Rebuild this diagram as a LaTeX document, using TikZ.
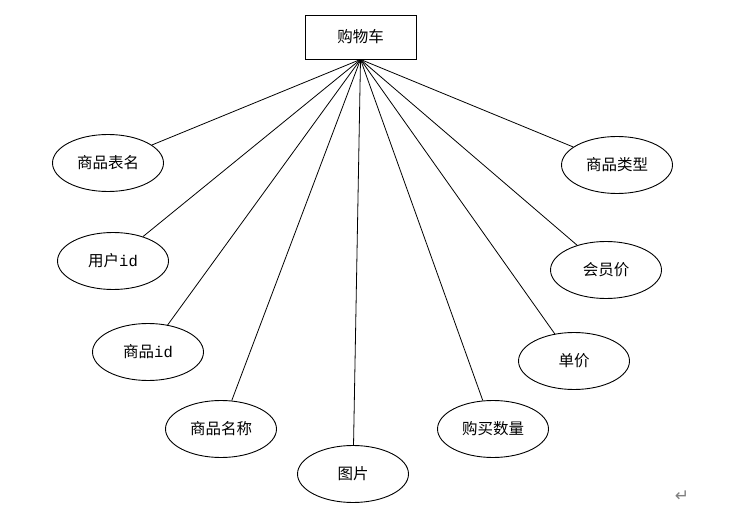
\documentclass[tikz,border=0pt]{standalone}
\usepackage{fontspec}
\newfontfamily\cjk{Noto Sans CJK SC}
\newfontfamily\symfont{DejaVu Sans}
\newfontfamily\monofnt{Liberation Mono}
\usetikzlibrary{shapes.geometric}
\begin{document}
\begin{tikzpicture}[x=1pt,y=-1pt,
  attr/.style={draw, ellipse, line width=0.9pt, minimum width=111pt, minimum height=57pt, inner sep=0pt, font=\cjk\fontsize{15.5}{18}\selectfont},
  entity/.style={draw, rectangle, line width=0.9pt, minimum width=111pt, minimum height=44pt, inner sep=0pt, font=\cjk\fontsize{15.5}{18}\selectfont},
  link/.style={line width=0.8pt}]
\useasboundingbox (0,0) rectangle (735,510);
\node[entity] (cart) at (360.5,37) {购物车};
\coordinate (hub) at (cart.south);
\node[attr] (a1) at (108,163) {商品表名};
\node[attr] (a2) at (113,261) {用户{\monofnt id}};
\node[attr] (a3) at (148,352) {商品{\monofnt id}};
\node[attr] (a4) at (221,429) {商品名称};
\node[attr] (a5) at (353,474) {图片};
\node[attr] (a6) at (493,429) {购买数量};
\node[attr] (a7) at (574,361) {单价};
\node[attr] (a8) at (606,270) {会员价};
\node[attr] (a9) at (617,165) {商品类型};
\foreach \n in {a1,a2,a3,a4,a5,a6,a7,a8,a9}
  \draw[link] (hub) -- (\n);
\node[text=gray, font=\symfont\fontsize{17}{18}\selectfont, inner sep=0pt] (ret) at (682,496) {↵};
\end{tikzpicture}
\end{document}
